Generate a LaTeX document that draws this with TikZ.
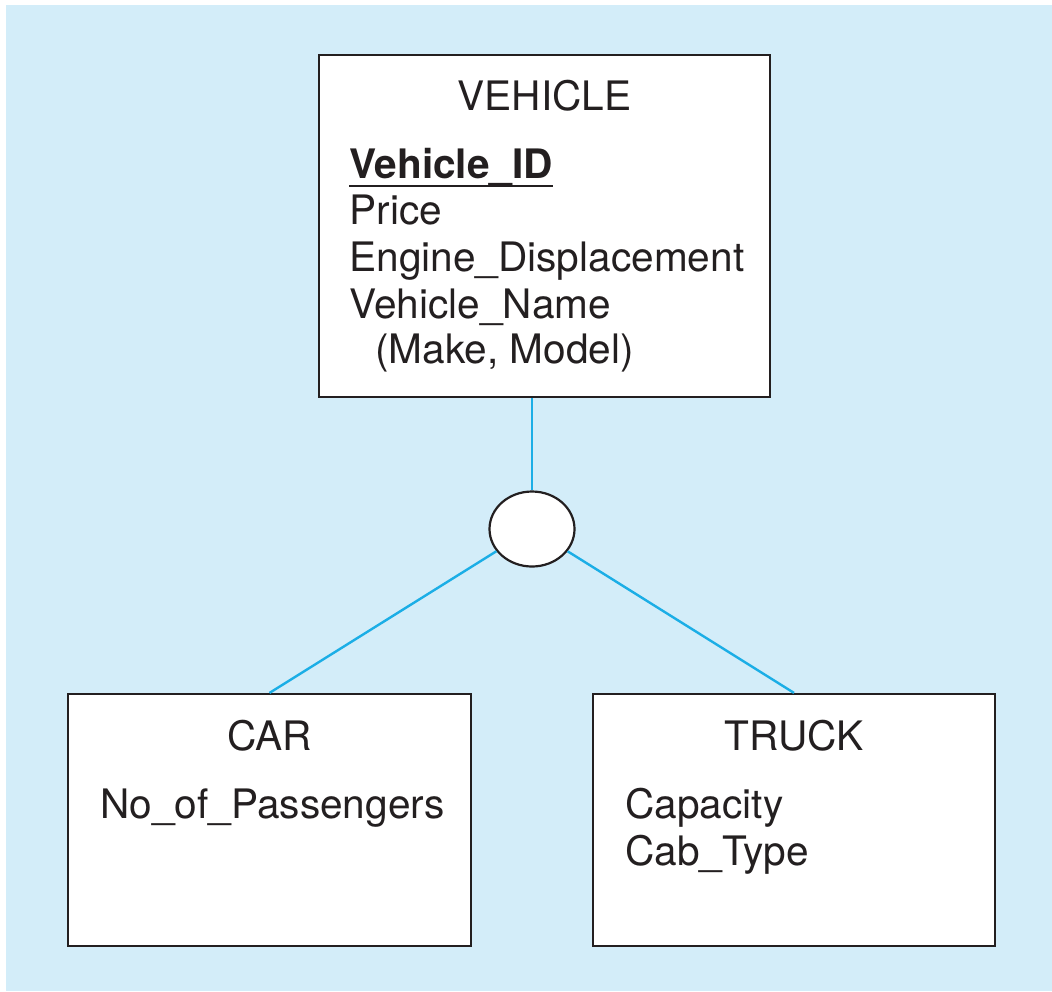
\documentclass[tikz,border=0pt]{standalone}
\usepackage{fontspec}
\setmainfont{TeX Gyre Heros}
\usetikzlibrary{shapes.geometric}
\usepackage{xcolor}
\definecolor{bgblue}{HTML}{D3EDF9}
\definecolor{linkblue}{HTML}{1BAEE6}
\definecolor{ink}{HTML}{231F20}

\begin{document}
\begin{tikzpicture}[x=0.5pt,y=-0.5pt,
	box/.style={draw=ink,fill=white,line width=1.1pt,inner sep=0},
	txt/.style={inner sep=0,text=ink,font=\fontsize{20.3}{23.5}\selectfont},
	attr/.style={txt,anchor=base west},
	title/.style={txt,anchor=base},
	link/.style={draw=linkblue,line width=1.2pt}]
	\useasboundingbox (0,0) rectangle (1052,991);
	\fill[bgblue] (6,5) rectangle (1052,991);

	% entity boxes
	\node[box,minimum width=225.5pt,minimum height=171pt] (vehicle) at (544.5,226) {};
	\node[box,minimum width=201.5pt,minimum height=126pt] (car) at (269.5,820) {};
	\node[box,minimum width=201pt,minimum height=126pt] (truck) at (794,820) {};
	\node[box,ellipse,minimum width=42.5pt,minimum height=37.5pt] (isa) at (532,529) {};

	\draw[link] (isa |- vehicle.south) -- (isa.north);
	\draw[link] (isa) -- (car.north);
	\draw[link] (isa) -- (truck.north);

	% titles
	\node[title] (vtitle) at (544.5,110) {VEHICLE};
	\node[title] (ctitle) at (269.5,750) {CAR};
	\node[title] (ttitle) at (794,750) {TRUCK};

	% attributes
	\node[attr,font=\fontsize{20.3}{23.5}\selectfont\bfseries] (vid) at (349,178) {Vehicle\_ID};
	\draw[ink,line width=1pt] ([yshift=-4pt]vid.base west) -- ([yshift=-4pt]vid.base east);
	\foreach \t/\y [count=\i] in {Price/224, Engine\_Displacement/271, Vehicle\_Name/318}
		\node[attr] (va\i) at (349,\y) {\t};
	\node[attr] (vmake) at (375,363) {(Make, Model)};

	\node[attr] (ca1) at (100,818) {No\_of\_Passengers};
	\foreach \t/\y [count=\i] in {Capacity/818, Cab\_Type/865}
		\node[attr] (ta\i) at (625,\y) {\t};
\end{tikzpicture}
\end{document}
